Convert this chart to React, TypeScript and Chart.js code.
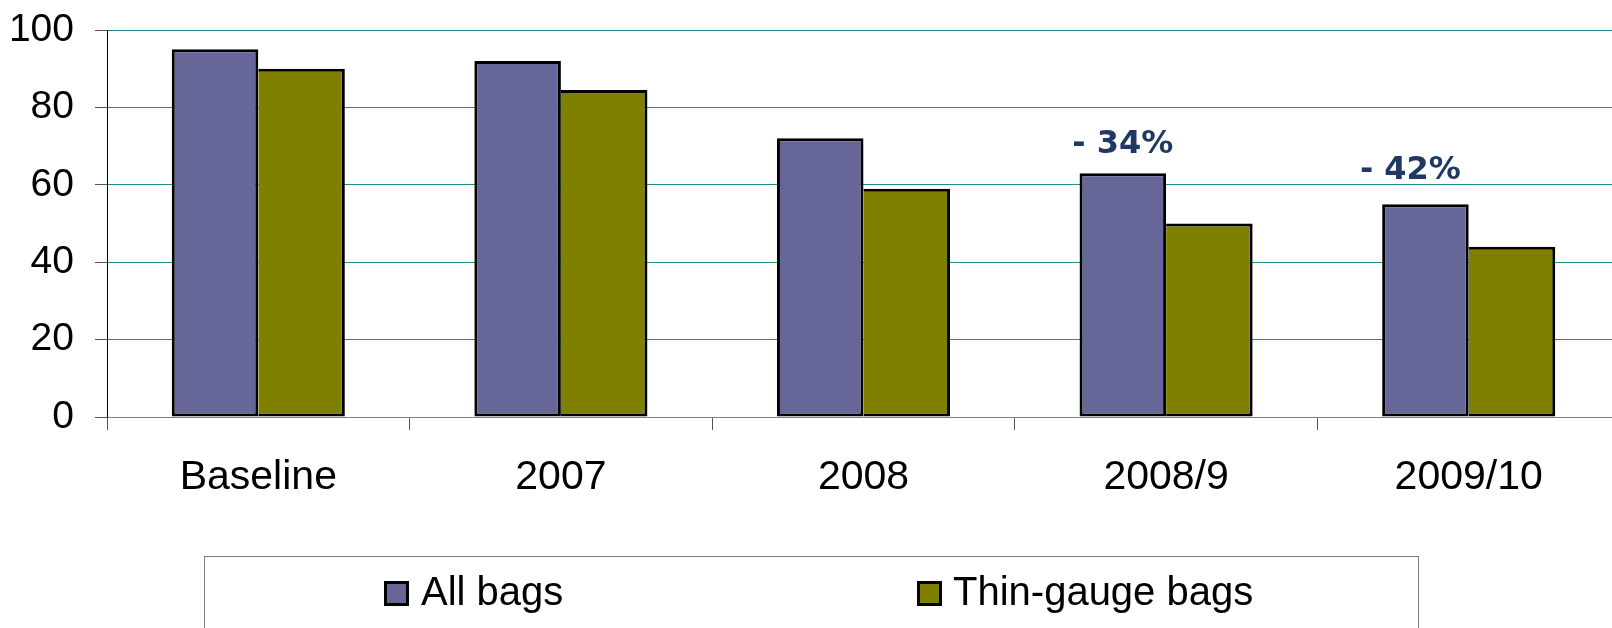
import React, { useEffect, useRef } from "react";
import { Chart, registerables } from "chart.js";

Chart.register(...registerables);

const categories = ["Baseline", "2007", "2008", "2008/9", "2009/10"];
const allBags = [95, 92, 72, 63, 55];
const thinGaugeBags = [90, 84.5, 59, 50, 44];
const seriesNames = ["All bags", "Thin-gauge bags"];
const seriesColors = ["#666699", "#808000"];
const yMin = 0;
const yMax = 100;
const yStep = 20;
const annotationCategories = ["2008/9", "2009/10"];
const annotationTexts = ["- 34%", "- 42%"];
const annotationValues = [68.2, 61.5];

const W = 1620;
const H = 628;

const annotationPlugin = {
  id: "pctAnnotations",
  afterDatasetsDraw(chart: any) {
    const ctx = chart.ctx;
    const meta = chart.getDatasetMeta(0);
    const y = chart.scales.y;
    const xOffsets = [0, -15];
    ctx.save();
    ctx.fillStyle = "#1F3864";
    ctx.font = "bold 32px 'DejaVu Sans'";
    ctx.textAlign = "center";
    ctx.textBaseline = "alphabetic";
    annotationTexts.forEach((t, i) => {
      const idx = categories.indexOf(annotationCategories[i]);
      const bar = meta.data[idx];
      ctx.fillText(t, bar.x + xOffsets[i], y.getPixelForValue(annotationValues[i]));
    });
    ctx.restore();
  },
};

const legendPlugin = {
  id: "boxLegend",
  afterDraw(chart: any) {
    const ctx = chart.ctx;
    ctx.save();
    ctx.strokeStyle = "#7f7f7f";
    ctx.lineWidth = 1;
    ctx.strokeRect(204.5, 556.5, 1214, 200);
    const squareX = [384, 917];
    const textX = [421, 953];
    const sqTop = 581;
    const sq = 25;
    ctx.font = "40px 'Liberation Sans', Arial, sans-serif";
    ctx.textAlign = "left";
    ctx.textBaseline = "alphabetic";
    chart.data.datasets.forEach((ds: any, i: number) => {
      ctx.fillStyle = "#000";
      ctx.fillRect(squareX[i], sqTop, sq, sq);
      ctx.fillStyle = ds.backgroundColor;
      ctx.fillRect(squareX[i] + 3, sqTop + 3, sq - 6, sq - 6);
      ctx.fillStyle = "#000";
      ctx.fillText(ds.label, textX[i], 605);
    });
    ctx.restore();
  },
};

export default function App() {
  const ref = useRef<HTMLCanvasElement>(null);
  useEffect(() => {
    const canvas = ref.current!;
    const chart = new Chart(canvas, {
      type: "bar",
      data: {
        labels: categories,
        datasets: [
          {
            label: seriesNames[0],
            data: allBags,
            backgroundColor: seriesColors[0],
            borderColor: "#000",
            borderWidth: 3,
            borderSkipped: false,
            categoryPercentage: 0.572,
            barPercentage: 1,
          },
          {
            label: seriesNames[1],
            data: thinGaugeBags,
            backgroundColor: seriesColors[1],
            borderColor: "#000",
            borderWidth: { top: 3, right: 3, bottom: 3, left: 0 },
            borderSkipped: false,
            categoryPercentage: 0.572,
            barPercentage: 1,
          },
        ],
      },
      options: {
        responsive: false,
        animation: false,
        devicePixelRatio: 1,
        layout: { padding: { top: 30, left: 0, right: 0, bottom: 0 } },
        plugins: {
          legend: { display: false },
          tooltip: { enabled: false },
          title: { display: false },
        },
        scales: {
          x: {
            type: "category",
            offset: true,
            grid: {
              offset: true,
              drawOnChartArea: false,
              drawTicks: true,
              tickLength: 13,
              color: "#555555",
            },
            border: { display: true, color: "#808080", width: 1 },
            ticks: {
              color: "#000",
              padding: 23,
              font: { family: "'Liberation Sans', Arial, sans-serif", size: 41 },
              maxRotation: 0,
              autoSkip: false,
            },
            afterFit: (s: any) => {
              s.height = 211;
              s.paddingLeft = 0;
              s.paddingRight = 0;
            },
          },
          y: {
            min: yMin,
            max: yMax,
            ticks: {
              stepSize: yStep,
              color: "#000",
              padding: 21,
              font: { family: "'Liberation Sans', Arial, sans-serif", size: 39 },
            },
            grid: {
              color: (c: any) => (c.tick && c.tick.value === 0 ? "#808080" : "#1f8a8a"),
              tickColor: "#555555",
              tickLength: 12,
              lineWidth: 1,
            },
            border: { display: true, color: "#000", width: 1 },
            afterFit: (s: any) => {
              s.width = 107;
              s.paddingTop = 0;
              s.paddingBottom = 0;
            },
          },
        },
      },
      plugins: [annotationPlugin, legendPlugin],
    });
    return () => chart.destroy();
  }, []);
  return (
    <div
      style={{
        position: "fixed",
        left: 0,
        top: 0,
        width: 1612,
        height: 628,
        overflow: "hidden",
        background: "#fff",
      }}
    >
      <canvas ref={ref} width={W} height={H} style={{ width: W, height: H, display: "block" }} />
    </div>
  );
}
